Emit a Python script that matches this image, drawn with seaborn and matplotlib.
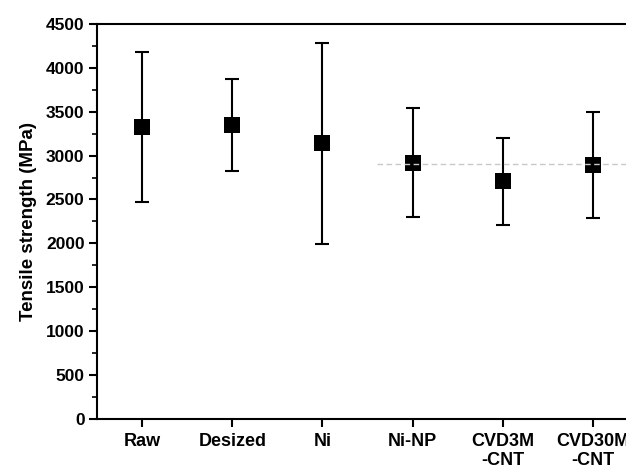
import numpy as np
import pandas as pd
import seaborn as sns
import matplotlib.pyplot as plt

samples = ["Raw", "Desized", "Ni", "Ni-NP", "CVD3M\n-CNT", "CVD30M\n-CNT"]
strength = [3326, 3349, 3140, 2919, 2706, 2893]
err_upper = [4175, 3869, 4286, 3539, 3204, 3497]
err_lower = [2475, 2828, 1990, 2297, 2210, 2286]
ref_level = 2908

sns.set_style("ticks")
plt.rcParams['font.family'] = ['Liberation Sans', 'DejaVu Sans']
plt.rcParams['font.weight'] = 'bold'
plt.rcParams['text.color'] = 'black'
plt.rcParams['xtick.color'] = 'black'
plt.rcParams['ytick.color'] = 'black'
plt.rcParams['axes.labelcolor'] = 'black'
plt.rcParams['axes.edgecolor'] = 'black'

df = pd.DataFrame({"sample": samples, "strength": strength,
                   "hi": err_upper, "lo": err_lower})
df["pos"] = np.arange(len(df))

fig = plt.figure(figsize=(6.26, 4.70), dpi=100)
ax = fig.add_axes([0.155, 0.109, 0.85, 0.84])

ax.errorbar(df["pos"], df["strength"],
            yerr=[df["strength"] - df["lo"], df["hi"] - df["strength"]],
            fmt='none', ecolor='black', elinewidth=1.5, capsize=5, capthick=1.5, zorder=2)
sns.scatterplot(data=df, x="pos", y="strength", marker='s', s=117, color='black',
                edgecolor='black', linewidth=0, ax=ax, zorder=3)
ax.plot([2.6, 6.5], [ref_level, ref_level], ls=(0, (4, 2.5)), color='#c8c8c8', lw=1, zorder=4)

ax.set_xlim(-0.5, 5.4)
ax.set_ylim(0, 4500)
ax.set_yticks(np.arange(0, 4501, 500))
ax.set_yticks(np.arange(250, 4500, 500), minor=True)
ax.set_xticks(df["pos"])
ax.set_xticklabels(samples, fontsize=13, fontweight='bold', linespacing=1.15)
ax.tick_params(axis='y', labelsize=12.5, width=1.5, length=6, pad=3)
ax.tick_params(axis='y', which='minor', width=1.2, length=3.5)
ax.tick_params(axis='x', width=1.5, length=6, pad=4)
for lbl in ax.get_yticklabels():
    lbl.set_fontweight('bold')
ax.set_xlabel("")
ax.set_ylabel("Tensile strength (MPa)", fontsize=13.5, fontweight='bold', labelpad=6)
for s in ['left', 'bottom', 'top']:
    ax.spines[s].set_linewidth(1.5)
ax.spines['right'].set_visible(False)

fig.savefig("out.png", dpi=100)
